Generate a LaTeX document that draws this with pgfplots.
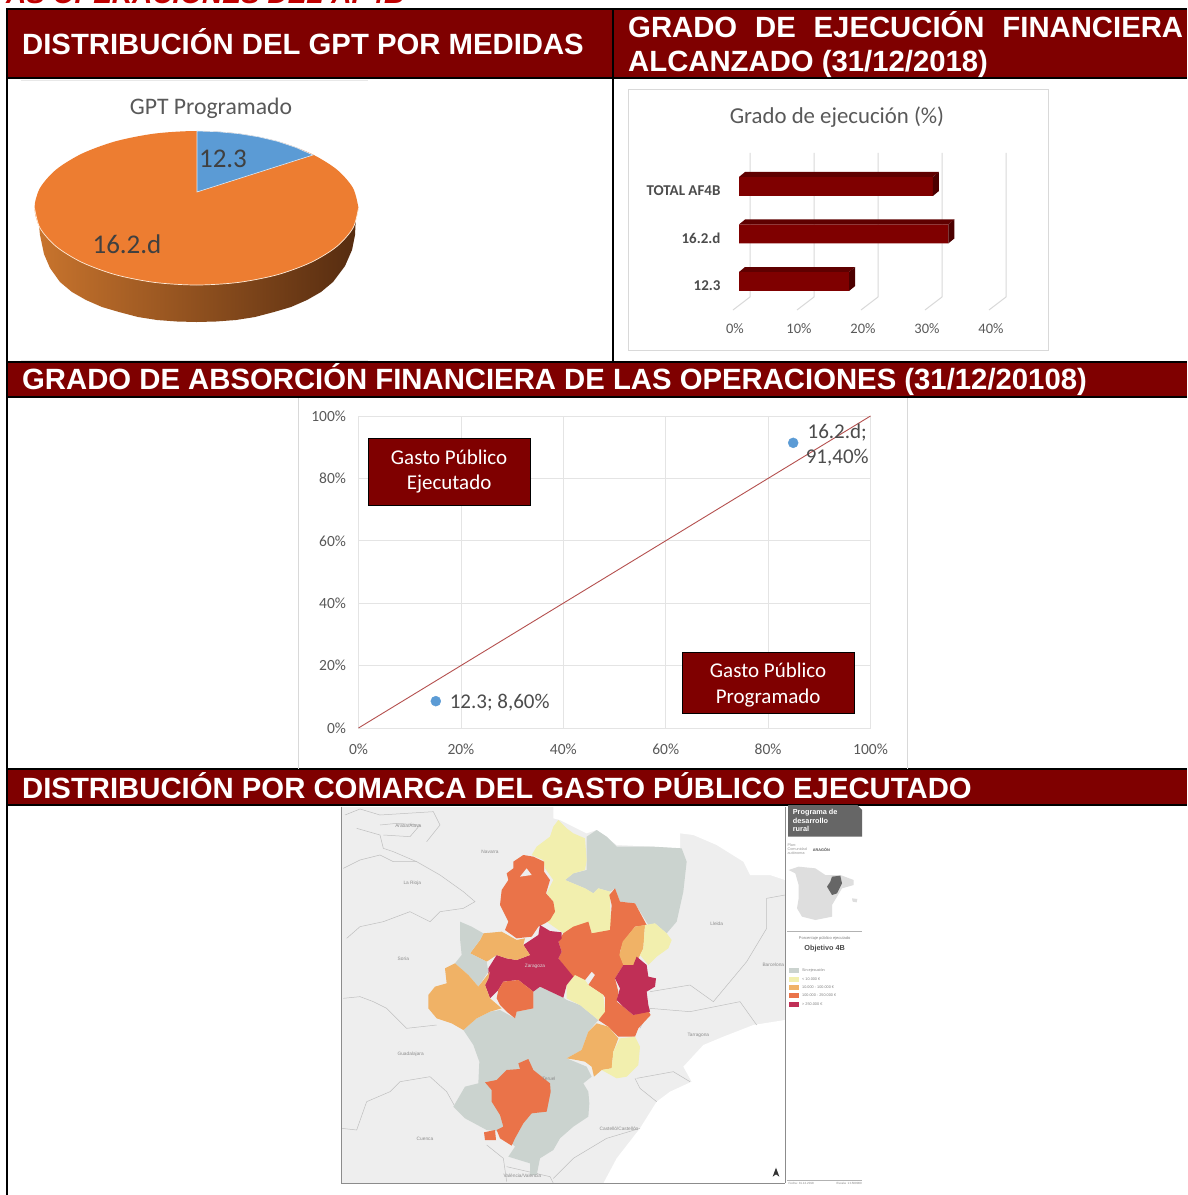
\documentclass[border=0pt]{standalone}
\usepackage{fontspec}
\usepackage{pgfplots}
\pgfplotsset{compat=1.18}
\setmainfont{Liberation Sans}
\newfontfamily\calibri{Carlito}
\definecolor{hdr}{HTML}{7F0000}
\definecolor{pieblue}{HTML}{5B9BD5}
\definecolor{pieorange}{HTML}{ED7D31}
\definecolor{gridg}{HTML}{D9D9D9}
\definecolor{txtg}{HTML}{595959}
\definecolor{mgrey}{HTML}{CBD3CF}
\definecolor{myellow}{HTML}{F2EFAE}
\definecolor{mlight}{HTML}{F0B266}
\definecolor{morange}{HTML}{EA7349}
\definecolor{mred}{HTML}{C02F56}
\definecolor{land}{HTML}{EEEEEE}
\definecolor{sa}{HTML}{C8742D}
\definecolor{sb}{HTML}{834519}
\definecolor{sc}{HTML}{562C10}
\definecolor{diag}{HTML}{B5504F}
\newcommand\poly[2]{\addplot[fill=#1,draw=none,forget plot] coordinates {#2} --cycle;}
\newcommand\fs[1]{\fontsize{#1}{#1}\selectfont}
\pgfplotsset{pix/.style={scale only axis,hide axis,no markers,anchor=south west,y dir=reverse}}
\begin{document}
\begin{tikzpicture}
\path[use as bounding box] (0pt,0pt) rectangle (1187pt,1195pt);
\clip (0pt,0pt) rectangle (1187pt,1195pt);
% ---------- page frame, headers, pie
\begin{axis}[pix,at={(0pt,0pt)},width=1187pt,height=1195pt,xmin=0,xmax=1187,ymin=0,ymax=1195,clip=false]
\poly{white}{(0,0)(1187,0)(1187,1195)(0,1195)}
\poly{hdr}{(7,9)(1187,9)(1187,78)(7,78)}
\poly{hdr}{(7,362)(1187,362)(1187,397)(7,397)}
\poly{hdr}{(7,769)(1187,769)(1187,805)(7,805)}
\addplot[gridg!60,line width=1pt] coordinates {(21,80)(368,80)};
\addplot[gridg!60,line width=1pt] coordinates {(21,360)(368,360)};
\addplot[black,line width=1.6pt] coordinates {(6,9)(1187,9)};
\addplot[black,line width=1.6pt] coordinates {(6,78)(1187,78)};
\addplot[black,line width=1.6pt] coordinates {(6,362)(1187,362)};
\addplot[black,line width=1.6pt] coordinates {(6,397)(1187,397)};
\addplot[black,line width=1.6pt] coordinates {(6,769)(1187,769)};
\addplot[black,line width=1.6pt] coordinates {(6,805)(1187,805)};
\addplot[black,line width=1.6pt] coordinates {(7,9)(7,1195)};
\addplot[black,line width=1.6pt] coordinates {(613,9)(613,362)};
\node[anchor=base west,inner sep=0,text=red!75!black,font=\bfseries\itshape\fs{28}] at (axis cs:6,3) {AS OPERACIONES DEL AF4B};
\node[anchor=base west,inner sep=0,text=white,font=\bfseries\fs{29.3}] at (axis cs:22,54) {DISTRIBUCIÓN DEL GPT POR MEDIDAS};
\node[anchor=base west,inner sep=0,text=white,font=\bfseries\fs{29.3}] at (axis cs:628,37) {\makebox[555pt][s]{GRADO DE EJECUCIÓN FINANCIERA}};
\node[anchor=base west,inner sep=0,text=white,font=\bfseries\fs{29.3}] at (axis cs:628,71) {ALCANZADO (31/12/2018)};
\node[anchor=base west,inner sep=0,text=white,font=\bfseries\fs{29.3}] at (axis cs:22,389) {GRADO DE ABSORCIÓN FINANCIERA DE LAS OPERACIONES (31/12/20108)};
\node[anchor=base west,inner sep=0,text=white,font=\bfseries\fs{29.3}] at (axis cs:22,798) {DISTRIBUCIÓN POR COMARCA DEL GASTO PÚBLICO EJECUTADO};
% pie side
\addplot[draw=none,left color=sa,middle color=sb,right color=sc,forget plot] coordinates {(38,215)(100,205)(200,200)(300,205)(356,215)(355,235)(352,250)(345,266)(333,282)(321,292)(307,300)(291,307)(274,312)(255,317)(236,320)(216,321.5)(196.5,322)(177,321.5)(157,320)(138,317)(119,312)(102,307)(86,300)(72,292)(60,282)(50,268)(44,254)(40,235)} --cycle;
% pie top
\addplot[fill=pieorange,draw=none,smooth,forget plot] coordinates {(358.5,208)(353,228)(336.8,246.5)(311,262.4)(277.5,274.7)(238.5,282.4)(196.5,285)(154.5,282.4)(115.5,274.7)(82,262.4)(56.2,246.5)(40,228)(34.5,208)(40,188)(56.2,169.5)(82,153.6)(115.5,141.3)(154.5,133.6)(196.5,131)(238.5,133.6)(277.5,141.3)(311,153.6)(336.8,169.5)(353,188)(358.5,208)};
\addplot[white!85!orange,line width=.7pt,smooth] coordinates {(358.5,208)(353,228)(336.8,246.5)(311,262.4)(277.5,274.7)(238.5,282.4)(196.5,285)(154.5,282.4)(115.5,274.7)(82,262.4)(56.2,246.5)(40,228)(34.5,208)};
\addplot[fill=pieblue,draw=white!80!pieblue,line width=.6pt] coordinates {(197,131)(217.8,131.7)(238.5,133.6)(258.5,136.8)(277.5,141.3)(296,147.5)(313,155)(197,192)} --cycle;
\node[text=txtg,font=\calibri\fs{23.7}] at (axis cs:211,108) {GPT Programado};
\node[text=black!75,font=\calibri\fs{27}] at (axis cs:223,159) {12.3};
\node[text=black!75,font=\calibri\fs{27}] at (axis cs:127,244) {16.2.d};
% frames of charts
\addplot[gridg,line width=1pt] coordinates {(628,89)(1048,89)(1048,350)(628,350)(628,89)};
\addplot[gridg,line width=1pt] coordinates {(298,398)(298,769)};
\addplot[gridg,line width=1pt] coordinates {(907,398)(907,769)};
\node[text=txtg,font=\calibri\fs{22.8}] at (axis cs:837,117) {Grado de ejecución (\%)};
\end{axis}
% ---------- bars
\begin{axis}[at={(739pt,883pt)},anchor=south west,scale only axis,width=256pt,height=159pt,
 xmin=0,xmax=40,ymin=-0.642,ymax=2.705,clip=false,axis line style={draw=none},major tick length=0,
 xtick={0,10,20,30,40},xticklabels={0\%,10\%,20\%,30\%,40\%},
 ytick={0,1,2},yticklabels={12.3,16.2.d,TOTAL AF4B},
 xticklabel style={font=\calibri\fs{14.5},text=txtg,xshift=-4pt,yshift=-8pt},
 yticklabel style={font=\calibri\bfseries\fs{15},text=black!70,xshift=-15pt,yshift=-4.5pt}]
\addplot[gridg,line width=1pt,forget plot] coordinates {(1.72,2.705)(1.72,-0.326)(-0.94,-0.6)};
\addplot[gridg,line width=1pt,forget plot] coordinates {(11.72,2.705)(11.72,-0.326)(9.06,-0.6)};
\addplot[gridg,line width=1pt,forget plot] coordinates {(21.72,2.705)(21.72,-0.326)(19.06,-0.6)};
\addplot[gridg,line width=1pt,forget plot] coordinates {(31.72,2.705)(31.72,-0.326)(29.06,-0.6)};
\addplot[gridg,line width=1pt,forget plot] coordinates {(41.72,2.705)(41.72,-0.326)(39.06,-0.6)};
\addplot[xbar,bar width=19pt,fill=hdr,draw=none] coordinates {(17.2,0)(32.7,1)(30.3,2)};
\poly{hdr!75!black}{(0,0.2)(17.2,0.2)(18.14,0.305)(0.94,0.305)}
\poly{hdr!60!black}{(17.2,0.2)(18.14,0.305)(18.14,-0.095)(17.2,-0.2)}
\poly{hdr!75!black}{(0,1.2)(32.7,1.2)(33.64,1.305)(0.94,1.305)}
\poly{hdr!60!black}{(32.7,1.2)(33.64,1.305)(33.64,0.905)(32.7,0.8)}
\poly{hdr!75!black}{(0,2.2)(30.3,2.2)(31.24,2.305)(0.94,2.305)}
\poly{hdr!60!black}{(30.3,2.2)(31.24,2.305)(31.24,1.905)(30.3,1.8)}
\end{axis}
% ---------- scatter
\begin{axis}[at={(358.5pt,467pt)},anchor=south west,scale only axis,width=512pt,height=312pt,
 xmin=0,xmax=100,ymin=0,ymax=100,clip=false,grid=major,grid style={gridg!70,line width=.8pt},
 axis line style={gridg!70,line width=.8pt},major tick length=0,
 xtick={0,20,40,60,80,100},xticklabels={0\%,20\%,40\%,60\%,80\%,100\%},
 ytick={0,20,40,60,80,100},yticklabels={0\%,20\%,40\%,60\%,80\%,100\%},
 xticklabel style={font=\calibri\fs{15.5},text=txtg,yshift=-12pt},
 yticklabel style={font=\calibri\fs{15.5},text=txtg,xshift=-9pt}]
\addplot[color=diag,line width=.9pt,no markers] coordinates {(0,0)(100,100)};
\addplot[only marks,color=pieblue,mark=*,mark size=5pt,mark options={fill=pieblue,draw=pieblue}] coordinates {(15.1,8.6)(84.9,91.4)};
\node[anchor=west,inner sep=0,text=black!70,font=\calibri\fs{21},align=left] at (axis cs:17.8,8.0) {12.3; 8,60\%};
\node[text=black!70,font=\calibri\fs{21},align=center,inner sep=0] at (axis cs:93.5,90.7) {16.2.d;\\[4pt]91,40\%};
\node[fill=hdr,draw=black,line width=.9pt,minimum width=162pt,minimum height=67pt,inner sep=0] at (axis cs:17.7,82.2) {};
\node[text=white,font=\calibri\fs{21},align=center,inner sep=0] at (axis cs:17.7,82.2) {Gasto Público\\[4pt]Ejecutado};
\node[fill=hdr,draw=black,line width=.9pt,minimum width=172pt,minimum height=61pt,inner sep=0] at (axis cs:80,14.3) {};
\node[text=white,font=\calibri\fs{21},align=center,inner sep=0] at (axis cs:80,13.7) {Gasto Público\\[5pt]Programado};
\end{axis}
% ---------- map
\begin{axis}[pix,at={(340pt,0pt)},width=530pt,height=390pt,xmin=0,xmax=1590,ymin=0,ymax=1170,clip=false]
\poly{land}{(5,5)(1335,5)(1335,1135)(5,1135)}
\poly{white}{(640,5)(640,40)(660,45)(740,85)(770,75)(830,120)(940,125)(1020,130)(1020,85)(1060,90)(1130,120)(1210,170)(1230,210)(1290,210)(1335,225)(1335,5)}
\poly{white}{(1335,645)(1240,660)(1150,695)(1090,720)(1030,785)(1055,830)(990,860)(950,890)(900,970)(830,1060)(790,1135)(1335,1135)}
\addplot[black!25,line width=.5pt] coordinates {(10,190)(60,165)(120,150)(160,170)(230,170)(300,210)(370,260)(405,290)(370,310)(300,320)(270,350)(210,320)(130,350)(60,365)(20,400)};
\addplot[black!25,line width=.5pt] coordinates {(50,70)(120,90)(130,130)(160,140)(230,170)};
\addplot[black!25,line width=.5pt] coordinates {(120,60)(170,55)(240,60)(210,95)(130,90)};
\addplot[black!25,line width=.5pt] coordinates {(15,30)(60,12)(120,30)(280,20)(300,60)(260,110)};
\addplot[black!25,line width=.5pt] coordinates {(10,580)(60,575)(100,590)(140,610)(200,670)(290,660)};
\addplot[black!25,line width=.5pt] coordinates {(5,970)(50,975)(80,890)(150,860)(180,830)(270,815)(320,860)(345,905)};
\addplot[black!25,line width=.5pt] coordinates {(440,1020)(490,1060)(500,1130)};
\addplot[black!25,line width=.5pt] coordinates {(500,1085)(630,1115)(640,1135)};
\addplot[black!25,line width=.5pt] coordinates {(900,670)(930,610)(1050,620)(1200,590)(1250,660)};
\addplot[black!25,line width=.5pt] coordinates {(930,560)(1050,540)(1120,590)(1220,470)(1280,370)(1280,280)(1335,270)};
\addplot[black!25,line width=.5pt] coordinates {(885,820)(900,850)(950,890)};
\addplot[black!25,line width=.5pt] coordinates {(890,820)(1000,800)(1050,830)};
\addplot[black!25,line width=.5pt] coordinates {(640,1120)(700,1060)(800,1000)(900,970)};
\poly{mgrey}{(370,675)(410,640)(450,620)(480,615)(525,640)(530,620)(580,610)(580,560)(600,545)(670,578)(680,585)(720,600)(775,645)(745,680)(725,735)(680,760)(740,785)(755,815)(730,835)(745,860)(748,895)(745,935)(700,965)(660,1000)(640,1035)(600,1060)(590,1110)(570,1110)(570,1075)(505,1055)(525,1025)(480,980)(440,975)(375,940)(340,905)(375,845)(415,835)(418,770)(400,720)}
\poly{mgrey}{(770,75)(740,95)(740,195)(700,205)(675,225)(735,250)(760,265)(775,250)(810,260)(825,250)(840,290)(885,295)(925,360)(945,355)(980,385)(1010,350)(1030,260)(1040,170)(1025,130)(940,125)(900,125)(830,125)(800,95)}
\poly{myellow}{(655,45)(640,65)(630,95)(590,125)(575,150)(610,165)(615,190)(640,225)(620,265)(640,290)(640,330)(620,350)(670,385)(745,350)(755,385)(815,380)(810,300)(810,260)(775,250)(760,265)(735,250)(675,225)(700,205)(735,195)(740,165)(735,100)(700,85)(680,70)}
\poly{morange}{(520,170)(550,150)(580,155)(612,170)(612,200)(630,225)(618,265)(640,290)(645,320)(630,345)(615,355)(595,365)(575,395)(530,400)(495,375)(505,350)(480,300)(485,255)(505,225)(500,205)(520,190)}
\poly{land}{(540,215)(560,190)(575,210)}
\poly{morange}{(825,250)(808,270)(815,300)(810,375)(755,385)(745,350)(700,365)(670,385)(655,410)(665,440)(655,460)(700,520)(735,525)(755,500)(765,510)(745,540)(790,570)(805,590)(830,600)(835,560)(825,520)(850,480)(840,440)(850,410)(885,365)(920,360)(885,295)(840,290)}
\poly{mlight}{(885,365)(915,360)(910,430)(885,480)(850,480)(838,450)(848,410)}
\poly{myellow}{(915,360)(945,355)(980,385)(995,405)(985,430)(950,455)(925,480)(900,450)(910,430)}
\poly{morange}{(805,570)(830,590)(850,605)(880,630)(925,618)(932,630)(895,670)(885,695)(835,695)(805,665)(775,645)(795,610)(795,570)}
\poly{mred}{(890,455)(920,480)(925,515)(948,520)(945,545)(920,560)(925,600)(930,620)(880,630)(850,605)(830,585)(840,550)(825,520)(850,480)(880,480)}
\poly{myellow}{(705,510)(735,525)(745,540)(790,570)(795,620)(775,645)(720,600)(680,580)(680,540)}
\poly{mred}{(600,360)(630,378)(665,382)(665,400)(655,410)(665,440)(655,460)(700,515)(680,540)(670,578)(600,545)(580,560)(535,525)(490,530)(475,555)(450,580)(435,540)(445,520)(445,490)(470,450)(500,460)(530,465)(570,450)(550,420)(595,390)}
\poly{mlight}{(430,385)(485,380)(530,405)(555,400)(550,420)(570,450)(530,465)(500,460)(470,450)(440,470)(390,445)(420,405)}
\poly{mgrey}{(360,350)(395,365)(430,385)(420,405)(390,445)(440,470)(445,500)(415,545)(385,510)(345,475)(365,450)(360,400)}
\poly{mlight}{(315,490)(345,475)(385,510)(415,545)(450,500)(445,520)(435,540)(450,580)(485,610)(450,620)(410,640)(370,675)(335,655)(290,640)(265,610)(265,570)(285,545)(320,535)}
\poly{morange}{(490,530)(535,525)(580,560)(580,610)(530,620)(525,640)(500,620)(480,600)(470,580)(475,555)}
\poly{morange}{(535,775)(565,762)(580,795)(630,835)(632,860)(620,920)(575,925)(550,955)(525,1000)(515,1022)(480,1000)(470,975)(490,965)(480,930)(455,890)(455,855)(435,832)(470,825)(500,795)(540,792)}
\poly{morange}{(432,982)(465,975)(468,1005)(435,1005)}
\poly{mlight}{(770,655)(805,665)(835,700)(820,740)(815,790)(785,795)(762,815)(755,785)(735,770)(710,765)(680,760)(725,735)(745,680)}
\poly{myellow}{(840,700)(885,695)(900,725)(895,780)(860,815)(830,820)(785,795)(815,790)(820,740)}
\poly{black!80}{(1308,1088)(1318,1115)(1308,1108)(1298,1115)}
% place names
\node[text=black!45,font=\fs{4.8},inner sep=0] at (axis cs:190,460) {Soria};
\node[text=black!45,font=\fs{4.8},inner sep=0] at (axis cs:217,235) {La Rioja};
\node[text=black!45,font=\fs{4.8},inner sep=0] at (axis cs:450,140) {Navarra};
\node[text=black!45,font=\fs{4.8},inner sep=0] at (axis cs:1130,355) {Lleida};
\node[text=black!45,font=\fs{4.8},inner sep=0] at (axis cs:1075,690) {Tarragona};
\node[text=black!45,font=\fs{4.8},inner sep=0] at (axis cs:212,748) {Guadalajara};
\node[text=black!45,font=\fs{4.8},inner sep=0] at (axis cs:255,1003) {Cuenca};
\node[text=black!45,font=\fs{4.8},inner sep=0] at (axis cs:837,970) {Castelló/Castellón};
\node[text=black!45,font=\fs{4.8},inner sep=0] at (axis cs:627,820) {Teruel};
\node[text=black!45,font=\fs{4.8},inner sep=0] at (axis cs:547,1113) {València/Valencia};
\node[text=black!45,font=\fs{4.8},inner sep=0] at (axis cs:1300,480) {Barcelona};
\node[text=black!45,font=\fs{4.8},inner sep=0] at (axis cs:205,60) {Araba/Álava};
\node[text=white!85!black,font=\fs{4.8},inner sep=0] at (axis cs:585,485) {Zaragoza};
\addplot[black!45,line width=.8pt] coordinates {(5,5)(5,1135)(1335,1135)};
\addplot[black!45,line width=.8pt] coordinates {(1335,5)(1335,1135)};
% side panel
\poly{black!60}{(1344,0)(1552,0)(1566,15)(1566,95)(1344,95)}
\node[anchor=west,inner sep=0,text=white,font=\bfseries\fs{7.3},align=left] at (axis cs:1358,47) {Programa de\\[1.2pt]desarrollo\\[1.2pt]rural};
\node[anchor=west,inner sep=0,text=black!40,font=\fs{3.8},align=left] at (axis cs:1342,133) {Plan:\\[.5pt]Comunidad\\[.5pt]autónoma:};
\node[anchor=west,inner sep=0,text=black!70,font=\bfseries\fs{3.8}] at (axis cs:1418,135) {ARAGÓN};
\poly{black!13}{(1346,195)(1376,185)(1426,190)(1456,210)(1501,210)(1541,225)(1541,240)(1506,250)(1491,275)(1476,300)(1476,335)(1426,345)(1386,335)(1371,310)(1376,280)(1376,240)(1366,205)}
\poly{black!60}{(1476,215)(1501,212)(1506,235)(1491,265)(1476,270)(1461,245)(1471,230)}
\poly{black!13}{(1536,280)(1552,282)(1550,292)(1538,290)}
\addplot[black!30,line width=.6pt] coordinates {(1341,378)(1566,378)};
\node[text=black!50,font=\fs{4}] at (axis cs:1454,400) {Porcentaje público ejecutado};
\node[text=black!70,font=\bfseries\fs{7.3}] at (axis cs:1454,432) {Objetivo 4B};
\poly{mgrey}{(1348,490)(1378,490)(1378,505)(1348,505)}
\poly{myellow}{(1348,515)(1378,515)(1378,530)(1348,530)}
\poly{mlight}{(1348,540)(1378,540)(1378,555)(1348,555)}
\poly{morange}{(1348,565)(1378,565)(1378,580)(1348,580)}
\poly{mred}{(1348,590)(1378,590)(1378,605)(1348,605)}
\node[anchor=west,inner sep=0,text=black!50,font=\fs{3.8}] at (axis cs:1386,497) {Sin ejecución};
\node[anchor=west,inner sep=0,text=black!50,font=\fs{3.8}] at (axis cs:1386,522) {< 10.000 €};
\node[anchor=west,inner sep=0,text=black!50,font=\fs{3.8}] at (axis cs:1386,547) {10.000 - 100.000 €};
\node[anchor=west,inner sep=0,text=black!50,font=\fs{3.8}] at (axis cs:1386,572) {100.000 - 250.000 €};
\node[anchor=west,inner sep=0,text=black!50,font=\fs{3.8}] at (axis cs:1386,597) {> 250.000 €};
\addplot[black!30,line width=.5pt] coordinates {(1341,1125)(1566,1125)};
\node[anchor=west,inner sep=0,text=black!50,font=\fs{3}] at (axis cs:1345,1134) {Fecha: 31.12.2018};
\node[anchor=east,inner sep=0,text=black!50,font=\fs{3}] at (axis cs:1566,1134) {Escala: 1:1500000};
\end{axis}
\end{tikzpicture}
\end{document}
